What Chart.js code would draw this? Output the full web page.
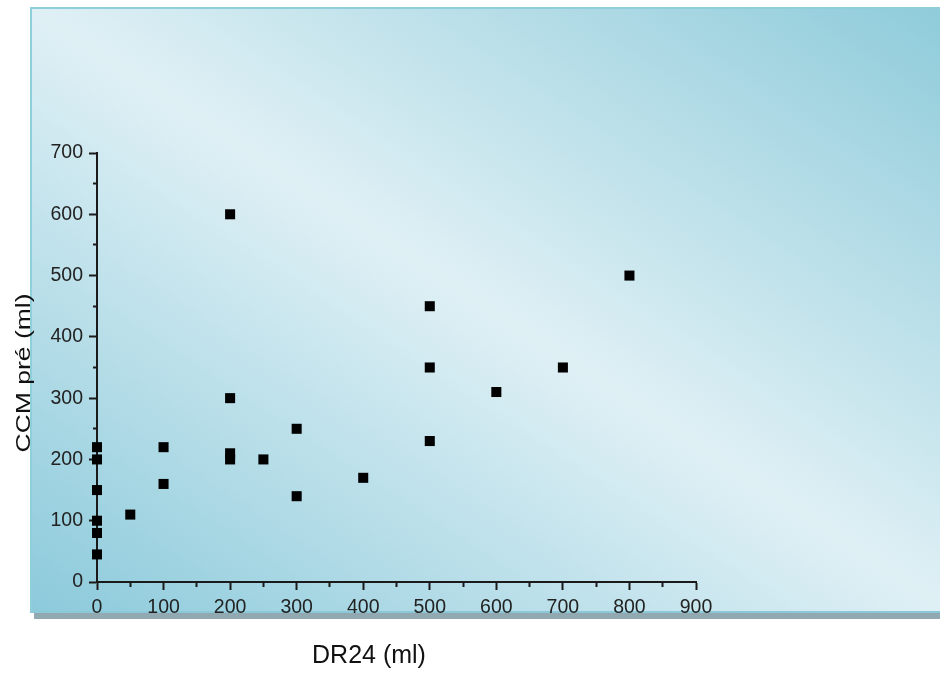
<!DOCTYPE html>
<html>
<head>
<meta charset="utf-8">
<script src="https://cdn.jsdelivr.net/npm/chart.js@4.4.1/dist/chart.umd.min.js"></script>
<style>
    body { margin: 0; background: #ffffff; }
    #panel {
        position: absolute;
        left: 30px;
        top: 7px;
        width: 920px;
        height: 602px;
        border-left: 2px solid #8fcfdc;
        border-top: 2px solid #8fcfdc;
        border-bottom: 2px solid #8cc9d8;
        background: linear-gradient(to top right, #8ccadb 0%, #dff0f5 50%, #8ecbda 100%);
        box-shadow: 4px 6px 0 #93a9b1;
    }
    #chart { position: absolute; left: 0; top: 0; }
</style>
</head>
<body>
<div id="panel"></div>
<canvas id="chart" width="940" height="673"></canvas>
<script>
// values
const dr24 = [0, 0, 0, 0, 0, 0, 50, 100, 100, 200, 200, 200, 200, 250, 300, 300, 400, 500, 500, 500, 600, 700, 800];
const ccmPre = [220, 200, 150, 100, 80, 45, 110, 220, 160, 600, 300, 210, 200, 200, 250, 140, 170, 450, 350, 230, 310, 350, 500];

const xTitle = 'DR24 (ml)';
const yTitle = 'CCM pré (ml)';

const points = dr24.map((x, i) => ({ x: x, y: ccmPre[i] }));

const isMajor = (v) => v % 100 === 0;

// axis titles, the y one is drawn stretched like in the original
const axisTitles = {
    id: 'axisTitles',
    afterDraw(chart) {
        const ctx = chart.ctx;
        ctx.save();
        ctx.fillStyle = '#111111';
        ctx.textAlign = 'center';
        ctx.textBaseline = 'alphabetic';
        ctx.font = '25px "Liberation Sans", Arial, sans-serif';
        ctx.fillText(xTitle, 369, 663);

        ctx.font = '21px "Liberation Sans", Arial, sans-serif';
        const w = ctx.measureText(yTitle).width;
        ctx.translate(30, 373);
        ctx.rotate(-Math.PI / 2);
        ctx.scale(159 / w, 1);
        ctx.fillText(yTitle, 0, 0);
        ctx.restore();
    }
};

const tickGrid = {
    display: true,
    drawOnChartArea: false,
    drawTicks: true,
    tickLength: 8,
    tickWidth: 2,
    tickColor: '#1a1a1a',
};

const config = {
    type: 'scatter',
    data: {
        datasets: [
            {
                label: 'CCM pré',
                data: points,
                pointStyle: 'rect',
                pointRadius: 7.1,
                pointHoverRadius: 7.1,
                backgroundColor: '#000000',
                borderColor: '#000000',
                borderWidth: 0,
                clip: false,
            }
        ]
    },
    options: {
        responsive: false,
        animation: false,
        layout: {
            padding: { top: 153, right: 244, left: 0, bottom: 0 }
        },
        scales: {
            x: {
                type: 'linear',
                min: 0,
                max: 900,
                border: { display: true, color: '#1a1a1a', width: 2 },
                grid: {
                    ...tickGrid,
                    // minor ticks drawn shorter
                    tickBorderDash: (c) => isMajor(c.tick.value) ? [] : [4, 100],
                },
                ticks: {
                    stepSize: 50,
                    autoSkip: false,
                    maxRotation: 0,
                    padding: 6,
                    color: '#222222',
                    font: { family: '"Liberation Sans", Arial, sans-serif', size: 19.5 },
                    callback: (v) => isMajor(v) ? v : '',
                },
                afterFit: (s) => { s.height = 91; },
            },
            y: {
                type: 'linear',
                min: 0,
                max: 700,
                border: { display: true, color: '#1a1a1a', width: 2 },
                grid: {
                    ...tickGrid,
                    tickBorderDash: (c) => isMajor(c.tick.value) ? [] : [0, 4, 4, 100],
                },
                ticks: {
                    stepSize: 50,
                    autoSkip: false,
                    padding: 6,
                    color: '#222222',
                    font: { family: '"Liberation Sans", Arial, sans-serif', size: 19.5 },
                    callback: (v) => isMajor(v) ? v : '',
                },
                afterFit: (s) => { s.width = 97; },
            }
        },
        plugins: {
            legend: { display: false },
            title: { display: false },
            tooltip: { enabled: false },
        },
    },
    plugins: [axisTitles],
};

const ctx = document.getElementById('chart').getContext('2d');
const chart = new Chart(ctx, config);
</script>
</body>
</html>
